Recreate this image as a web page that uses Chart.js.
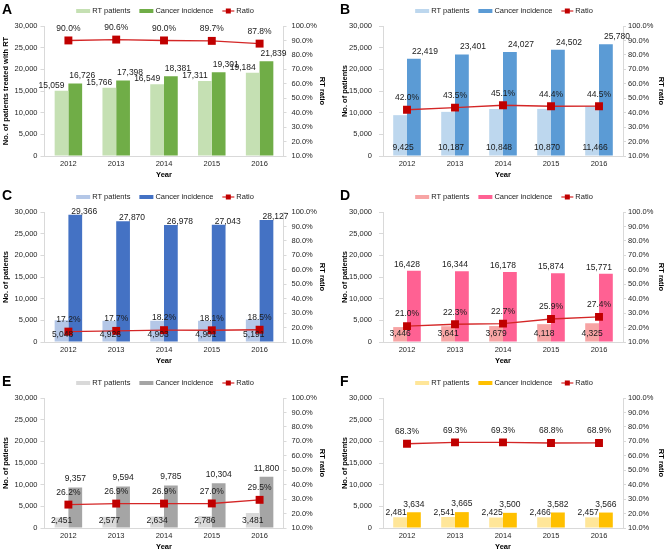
<!DOCTYPE html>
<html>
<head>
<meta charset="utf-8">
<script src="https://cdn.jsdelivr.net/npm/chart.js@4.4.0/dist/chart.umd.min.js"></script>
<style>
  body { margin: 0; background: #fff; }
  #wrap { position: relative; width: 666px; height: 553px; }
  canvas { position: absolute; }
</style>
</head>
<body>
<div id="wrap">
  <canvas id="A" width="333" height="181" style="left:0;top:0"></canvas>
  <canvas id="B" width="333" height="181" style="left:333px;top:0"></canvas>
  <canvas id="C" width="333" height="181" style="left:0;top:186px"></canvas>
  <canvas id="D" width="333" height="181" style="left:333px;top:186px"></canvas>
  <canvas id="E" width="333" height="181" style="left:0;top:372px"></canvas>
  <canvas id="F" width="333" height="181" style="left:333px;top:372px"></canvas>
</div>
<script>
// data
const years = ['2012', '2013', '2014', '2015', '2016'];

const rtA = [15059, 15766, 16549, 17311, 19184];
const incA = [16726, 17398, 18381, 19301, 21839];
const ratioA = [90.0, 90.6, 90.0, 89.7, 87.8];

const rtB = [9425, 10187, 10848, 10870, 11466];
const incB = [22419, 23401, 24027, 24502, 25780];
const ratioB = [42.0, 43.5, 45.1, 44.4, 44.5];

const rtC = [5048, 4926, 4903, 4901, 5191];
const incC = [29366, 27870, 26978, 27043, 28127];
const ratioC = [17.2, 17.7, 18.2, 18.1, 18.5];

const rtD = [3446, 3641, 3679, 4118, 4325];
const incD = [16428, 16344, 16178, 15874, 15771];
const ratioD = [21.0, 22.3, 22.7, 25.9, 27.4];

const rtE = [2451, 2577, 2634, 2786, 3481];
const incE = [9357, 9594, 9785, 10304, 11800];
const ratioE = [26.2, 26.9, 26.9, 27.0, 29.5];

const rtF = [2481, 2541, 2425, 2466, 2457];
const incF = [3634, 3665, 3500, 3582, 3566];
const ratioF = [68.3, 69.3, 69.3, 68.8, 68.9];

const FONT = "'Liberation Sans', Arial, sans-serif";
Chart.defaults.font.family = FONT;
Chart.defaults.color = '#262626';

const LINE_RED = '#d42626';
const MARK_RED = '#c00000';
const AXIS_GRAY = '#d9d9d9';

// column geometry (left edge of plot, right edge of plot)
const cols = {
  left:  { plotL: 44.5, plotR: 283.5, yTitlePad: 1.5, y2TitlePad: 6.5, yPad: 3, y2Pad: 5, letterX: 2 },
  right: { plotL: 50,   plotR: 290,   yTitlePad: 7,   y2TitlePad: 0.5, yPad: 7, y2Pad: 2, letterX: 7 }
};

// value labels above/inside bars and above points
const valueLabels = {
  id: 'valueLabels',
  afterDatasetsDraw(chart) {
    const ctx = chart.ctx;
    ctx.save();
    ctx.font = '8.5px ' + FONT;
    ctx.fillStyle = '#1a1a1a';
    ctx.textAlign = 'center';
    ctx.textBaseline = 'middle';
    chart.data.datasets.forEach((ds, i) => {
      const o = ds.lbl;
      chart.getDatasetMeta(i).data.forEach((el, j) => {
        const v = ds.data[j];
        const txt = ds.type === 'line' ? v.toFixed(1) + '%' : v.toLocaleString('en-US');
        const y = o.base ? el.base - o.dy : el.y - o.dy;
        ctx.fillText(txt, el.x + o.dx, y);
      });
    });
    ctx.restore();
  }
};

// panel letter + Excel-like legend
const header = {
  id: 'header',
  afterDraw(chart, args, opts) {
    const ctx = chart.ctx;
    ctx.save();
    ctx.textBaseline = 'middle';
    ctx.textAlign = 'left';
    ctx.fillStyle = '#000';
    ctx.font = 'bold 14px ' + FONT;
    ctx.fillText(opts.letter, opts.letterX, 10.5);

    ctx.font = '7.5px ' + FONT;
    const gap = 9;
    const items = chart.data.datasets.map(ds => {
      const sw = ds.type === 'line' ? 12 : 14;
      return { ds, sw, tw: ctx.measureText(ds.label).width };
    });
    const total = items.reduce((s, it) => s + it.sw + 2 + it.tw, 0) + gap * (items.length - 1);
    let x = (chart.chartArea.left + chart.chartArea.right) / 2 + 1 - total / 2;
    const y = 11;
    items.forEach(it => {
      if (it.ds.type === 'line') {
        ctx.strokeStyle = it.ds.borderColor;
        ctx.lineWidth = 1.2;
        ctx.beginPath();
        ctx.moveTo(x, y);
        ctx.lineTo(x + it.sw, y);
        ctx.stroke();
        ctx.fillStyle = it.ds.pointBackgroundColor;
        ctx.fillRect(x + it.sw / 2 - 2.5, y - 2.5, 5, 5);
      } else {
        ctx.fillStyle = it.ds.backgroundColor;
        ctx.fillRect(x, y - 2, it.sw, 4);
      }
      x += it.sw + 2;
      ctx.fillStyle = '#1a1a1a';
      ctx.fillText(it.ds.label, x, y);
      x += it.tw + gap;
    });
    ctx.restore();
  }
};

function makePanel(id, rt, inc, ratio, s) {
  const c = cols[s.col];
  const canvas = document.getElementById(id);
  const W = canvas.width, H = canvas.height;
  const tickFont = { size: 7.5 };
  const titleFont = { size: 7.5, weight: 'bold' };

  return new Chart(canvas, {
    type: 'bar',
    data: {
      labels: years,
      datasets: [
        {
          label: 'RT patients', data: rt, backgroundColor: s.rtColor,
          categoryPercentage: 0.575, barPercentage: 1, order: 1,
          lbl: s.rtLbl
        },
        {
          label: 'Cancer incidence', data: inc, backgroundColor: s.incColor,
          categoryPercentage: 0.575, barPercentage: 1, order: 1,
          lbl: s.incLbl
        },
        {
          type: 'line', label: 'Ratio', data: ratio, yAxisID: 'y2', order: 0,
          borderColor: LINE_RED, borderWidth: 1.4,
          pointStyle: 'rect', pointRadius: 5.6,
          pointBackgroundColor: MARK_RED, pointBorderColor: MARK_RED, pointBorderWidth: 0,
          lbl: { dx: 0, dy: 12 }
        }
      ]
    },
    options: {
      responsive: false,
      animation: false,
      devicePixelRatio: 1,
      layout: { padding: { top: 26, left: 0, right: 0, bottom: 0 } },
      plugins: {
        legend: { display: false },
        tooltip: { enabled: false },
        header: { letter: id, letterX: c.letterX }
      },
      scales: {
        x: {
          grid: { display: false, drawTicks: false },
          border: { color: AXIS_GRAY },
          ticks: { font: tickFont, padding: 3 },
          title: { display: true, text: 'Year', font: titleFont, color: '#000', padding: { top: 0, bottom: 2 } },
          afterFit: sc => { sc.height = H - 156; }
        },
        y: {
          position: 'left',
          min: 0, max: 30000,
          grid: { drawOnChartArea: false, drawTicks: true, tickLength: 4, color: AXIS_GRAY },
          border: { color: AXIS_GRAY },
          ticks: { stepSize: 5000, font: tickFont, padding: c.yPad, callback: v => v.toLocaleString('en-US') },
          title: { display: true, text: s.yTitle, font: titleFont, color: '#000', padding: { top: c.yTitlePad, bottom: 0 } },
          afterFit: sc => { sc.width = c.plotL; }
        },
        y2: {
          position: 'right',
          min: 10, max: 100,
          grid: { drawOnChartArea: false, drawTicks: true, tickLength: 3, color: AXIS_GRAY },
          border: { color: AXIS_GRAY },
          ticks: { stepSize: 10, font: tickFont, padding: c.y2Pad, callback: v => v.toFixed(1) + '%' },
          title: { display: true, text: 'RT ratio', font: titleFont, color: '#000', padding: { top: c.y2TitlePad, bottom: 0 } },
          afterFit: sc => { sc.width = W - c.plotR; }
        }
      }
    },
    plugins: [valueLabels, header]
  });
}

makePanel('A', rtA, incA, ratioA, {
  col: 'left', rtColor: '#c5e0b3', incColor: '#70ad47',
  yTitle: 'No. of patients treated with RT',
  rtLbl: { dx: -10, dy: 5.5 }, incLbl: { dx: 7, dy: 8 }
});
makePanel('B', rtB, incB, ratioB, {
  col: 'right', rtColor: '#bdd7ee', incColor: '#5b9bd5',
  yTitle: 'No. of patients',
  rtLbl: { dx: 3, dy: 8, base: true }, incLbl: { dx: 11, dy: 7.5 }
});
makePanel('C', rtC, incC, ratioC, {
  col: 'left', rtColor: '#b4c7e7', incColor: '#4472c4',
  yTitle: 'No. of patients',
  rtLbl: { dx: 1, dy: 7, base: true }, incLbl: { dx: 9, dy: 3.5 }
});
makePanel('D', rtD, incD, ratioD, {
  col: 'right', rtColor: '#f7a4a4', incColor: '#ff6193',
  yTitle: 'No. of patients',
  rtLbl: { dx: 0, dy: 7.5, base: true }, incLbl: { dx: -7, dy: 6.5 }
});
makePanel('E', rtE, incE, ratioE, {
  col: 'left', rtColor: '#d9d9d9', incColor: '#a5a5a5',
  yTitle: 'No. of patients',
  rtLbl: { dx: 0, dy: 7, base: true }, incLbl: { dx: 0, dy: 8.5 }
});
makePanel('F', rtF, incF, ratioF, {
  col: 'right', rtColor: '#ffe699', incColor: '#ffc000',
  yTitle: 'No. of patients',
  rtLbl: { dx: -4, dy: 4.5 }, incLbl: { dx: 0, dy: 8 }
});
</script>
</body>
</html>
